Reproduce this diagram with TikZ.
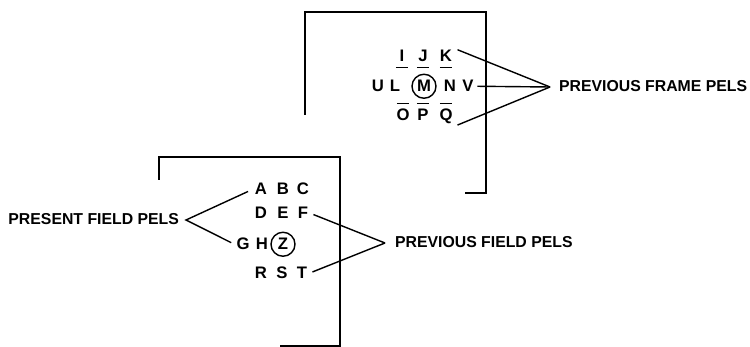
\documentclass[tikz,border=0pt]{standalone}
\usepackage{fontspec}
\setmainfont{Liberation Sans}
\usepackage{xcolor}
\usepackage{tikz}

\newcommand{\pelunder}[1]{$\underline{\hbox to 7pt{\hss\rule[-1.6pt]{0pt}{1.6pt}#1\hss}}$}
\newcommand{\pelover}[1]{$\overline{\hbox to 7pt{\hss\rule{0pt}{8.4pt}#1\hss}}$}

\begin{document}
\begin{tikzpicture}[x=0.02cm, y=-0.02cm,
    every node/.style={font=\bfseries\fontsize{9.5}{11}\selectfont, inner sep=1pt},
    pel/.style={anchor=base},
    ringed/.style={anchor=base, draw, circle, line width=0.8pt, minimum size=0.48cm, inner sep=0pt},
    caption/.style={font=\bfseries\fontsize{9}{11}\selectfont},
    frame/.style={line width=1.6pt},
    lead/.style={line width=0.8pt}]
    \useasboundingbox (0,0) rectangle (750,347);

    % Previous frame
    \draw[frame] (305,115) -- (305,12) -- (486,12) -- (486,193) -- (465,193);
    \node[pel] (I) at (402,62) {\pelunder{I}};
    \node[pel] (J) at (423,62) {\pelunder{J}};
    \node[pel] (K) at (446,62) {\pelunder{K}};
    \node[pel] (U) at (378,92) {U};
    \node[pel] (L) at (395,92) {L};
    \node[ringed] (M) at (424,92) {M};
    \node[pel] (N) at (450,92) {N};
    \node[pel] (V) at (468,92) {V};
    \node[pel] (O) at (403,121) {\pelover{O}};
    \node[pel] (P) at (423,121) {\pelover{P}};
    \node[pel] (Q) at (446,121) {\pelover{Q}};

    \coordinate (framehub) at (550,87);
    \node[caption, anchor=base west] (framelbl) at (557,92) {PREVIOUS FRAME PELS};
    \draw[lead, shorten <=2pt] (K.north east) -- (framehub);
    \draw[lead, shorten <=1pt] (V.east) -- (framehub);
    \draw[lead, shorten <=2pt] (Q.south east) -- (framehub);

    % Present field
    \draw[frame] (159,180) -- (159,157) -- (340,157) -- (340,346) -- (280,346);
    \node[pel] (A) at (261,195) {A};
    \node[pel] (B) at (283,195) {B};
    \node[pel] (C) at (303,195) {C};
    \node[pel] (D) at (261,219) {D};
    \node[pel] (E) at (283,219) {E};
    \node[pel] (F) at (303,219) {F};
    \node[pel] (G) at (243,250) {G};
    \node[pel] (H) at (262,250) {H};
    \node[ringed] (Z) at (283,250) {Z};
    \node[pel] (R) at (261,279) {R};
    \node[pel] (S) at (282,279) {S};
    \node[pel] (T) at (302,279) {T};

    \coordinate (presenthub) at (186,220);
    \node[caption, anchor=base east] (presentlbl) at (181,225) {PRESENT FIELD PELS};
    \draw[lead, shorten <=3pt, shorten >=2pt] (A.west) -- (presenthub) -- (G.west);

    \coordinate (fieldhub) at (385,243);
    \node[caption, anchor=base west] (fieldlbl) at (393,248) {PREVIOUS FIELD PELS};
    \draw[lead, shorten <=2pt] (F.east) -- (fieldhub);
    \draw[lead, shorten <=2pt] (T.east) -- (fieldhub);
\end{tikzpicture}
\end{document}
